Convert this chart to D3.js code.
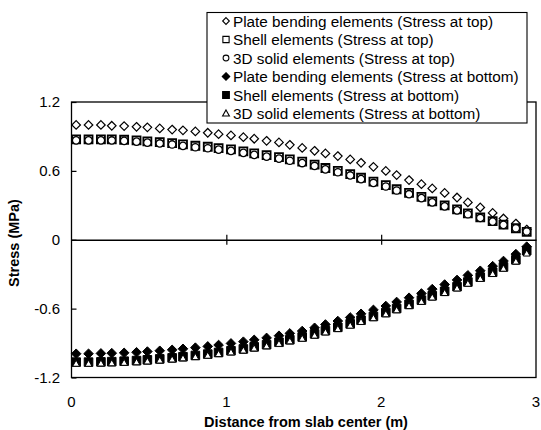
<!DOCTYPE html>
<html>
<head>
<meta charset="utf-8">
<script src="https://cdn.jsdelivr.net/npm/d3@7"></script>
<style>
  html, body { margin: 0; padding: 0; background: #fff; }
  svg { display: block; font-family: "Liberation Sans", Arial, sans-serif; }
</style>
</head>
<body>
<svg id="chart" width="541" height="430"></svg>
<script>
// Distance from slab center (m) of each sampled element
const distance = [0.03, 0.11, 0.19, 0.26, 0.34, 0.42, 0.49, 0.57, 0.65, 0.72,
  0.80, 0.88, 0.95, 1.03, 1.11, 1.18, 1.26, 1.34, 1.41, 1.49,
  1.57, 1.64, 1.72, 1.80, 1.87, 1.95, 2.03, 2.10, 2.18, 2.26,
  2.33, 2.41, 2.49, 2.56, 2.64, 2.72, 2.79, 2.87, 2.94];

// Stress at top of slab (MPa)
const plateTop = [1.00, 1.00, 1.00, 0.993, 0.99, 0.984, 0.979, 0.970, 0.960, 0.953,
  0.944, 0.932, 0.920, 0.909, 0.894, 0.880, 0.862, 0.848, 0.827, 0.800,
  0.775, 0.752, 0.729, 0.700, 0.670, 0.635, 0.600, 0.563, 0.520, 0.484,
  0.447, 0.408, 0.368, 0.325, 0.281, 0.234, 0.185, 0.141, 0.089];
const shellTop = [0.874, 0.874, 0.874, 0.874, 0.871, 0.865, 0.857, 0.851, 0.842, 0.830,
  0.819, 0.810, 0.798, 0.787, 0.770, 0.752, 0.737, 0.720, 0.700, 0.680,
  0.655, 0.625, 0.600, 0.572, 0.540, 0.507, 0.476, 0.440, 0.408, 0.373,
  0.335, 0.300, 0.264, 0.229, 0.195, 0.162, 0.132, 0.100, 0.068];
const solidTop = [0.866, 0.866, 0.866, 0.865, 0.861, 0.855, 0.846, 0.839, 0.830, 0.818,
  0.806, 0.797, 0.785, 0.774, 0.757, 0.739, 0.724, 0.707, 0.688, 0.668,
  0.643, 0.613, 0.588, 0.560, 0.528, 0.495, 0.464, 0.429, 0.397, 0.363,
  0.326, 0.291, 0.256, 0.222, 0.190, 0.158, 0.130, 0.100, 0.072];

// Stress at bottom of slab (MPa)
const plateBottom = [-0.993, -0.993, -0.990, -0.988, -0.985, -0.980, -0.974, -0.967, -0.959, -0.950,
  -0.940, -0.929, -0.917, -0.903, -0.888, -0.872, -0.855, -0.836, -0.816, -0.795,
  -0.767, -0.738, -0.708, -0.677, -0.645, -0.611, -0.577, -0.542, -0.505, -0.468,
  -0.430, -0.390, -0.350, -0.310, -0.270, -0.230, -0.185, -0.125, -0.060];
const shellBottom = [-1.066, -1.066, -1.064, -1.062, -1.058, -1.053, -1.046, -1.038, -1.029, -1.019,
  -1.008, -0.996, -0.982, -0.967, -0.951, -0.933, -0.914, -0.893, -0.871, -0.847,
  -0.820, -0.792, -0.763, -0.733, -0.701, -0.668, -0.634, -0.599, -0.563, -0.526,
  -0.488, -0.449, -0.409, -0.368, -0.326, -0.283, -0.237, -0.175, -0.095];
const solidBottom = [-1.080, -1.080, -1.078, -1.076, -1.072, -1.067, -1.060, -1.052, -1.043, -1.033,
  -1.022, -1.010, -0.996, -0.981, -0.965, -0.947, -0.928, -0.907, -0.885, -0.862,
  -0.835, -0.807, -0.778, -0.748, -0.716, -0.683, -0.649, -0.614, -0.578, -0.541,
  -0.503, -0.464, -0.424, -0.383, -0.341, -0.298, -0.252, -0.190, -0.120];

const xTicks = [0, 1, 2, 3];
const yTicks = [-1.2, -0.6, 0, 0.6, 1.2];

const seriesNames = [
  "Plate bending elements (Stress at top)",
  "Shell elements (Stress at top)",
  "3D solid elements (Stress at top)",
  "Plate bending elements (Stress at bottom)",
  "Shell elements (Stress at bottom)",
  "3D solid elements (Stress at bottom)"
];

// Marker shapes drawn around the origin, r = half-size in px
const shapes = {
  diamond: r => `M0,${-r}L${r},0L0,${r}L${-r},0Z`,
  square: r => `M${-r},${-r}H${r}V${r}H${-r}Z`,
  circle: r => `M${r},0A${r},${r} 0 1,1 ${-r},0A${r},${r} 0 1,1 ${r},0Z`,
  triangle: r => `M0,${-r}L${r * 0.95},${r * 0.7}H${-r * 0.95}Z`
};

const series = [
  { name: seriesNames[0], values: plateTop,    shape: "diamond",  r: 4.3, fill: "#fff",  sw: 1.2 },
  { name: seriesNames[1], values: shellTop,    shape: "square",   r: 4.0, fill: "#fff",  sw: 1.8 },
  { name: seriesNames[2], values: solidTop,    shape: "circle",   r: 3.7, fill: "#fff",  sw: 1.3 },
  { name: seriesNames[3], values: plateBottom, shape: "diamond",  r: 4.8, fill: "#000",  sw: 1.0 },
  { name: seriesNames[4], values: shellBottom, shape: "square",   r: 4.3, fill: "#000",  sw: 1.0 },
  { name: seriesNames[5], values: solidBottom, shape: "triangle", r: 3.6, fill: "#fff",  sw: 1.0 }
];

const svg = d3.select("#chart");
const plot = { left: 71.5, right: 536, top: 102, bottom: 377.5 };

const x = d3.scaleLinear().domain([0, 3]).range([plot.left, plot.right]);
const y = d3.scaleLinear().domain([-1.2, 1.2]).range([plot.bottom, plot.top]);

// Frame around the plotting area
svg.append("rect")
  .attr("x", plot.left).attr("y", plot.top)
  .attr("width", plot.right - plot.left).attr("height", plot.bottom - plot.top)
  .attr("fill", "none").attr("stroke", "#000").attr("stroke-width", 1.3);

// Left axis: labels outside, short ticks pointing into the plot
const yAxis = d3.axisRight(y).tickValues(yTicks).tickSize(5).tickFormat("");
svg.append("g").attr("transform", `translate(${plot.left},0)`).call(yAxis)
  .call(g => g.select(".domain").remove())
  .call(g => g.selectAll("line").attr("stroke", "#000").attr("stroke-width", 1.2));

svg.append("g").selectAll("text").data(yTicks).join("text")
  .attr("x", 60).attr("y", d => y(d)).attr("dy", "0.36em")
  .attr("text-anchor", "end").attr("font-size", 15).attr("fill", "#000")
  .text(d => String(d));

// Horizontal axis drawn along zero stress, ticks crossing the line
const xAxis = d3.axisBottom(x).tickValues([1, 2]).tickSize(0).tickFormat("");
const xg = svg.append("g").attr("transform", `translate(0,${y(0)})`).call(xAxis);
xg.select(".domain").attr("stroke", "#000").attr("stroke-width", 1.3);
xg.selectAll(".tick line").attr("y1", -5).attr("y2", 5).attr("stroke", "#000").attr("stroke-width", 1.2);

svg.append("g").selectAll("text").data(xTicks).join("text")
  .attr("x", d => x(d)).attr("y", 407)
  .attr("text-anchor", "middle").attr("font-size", 15).attr("fill", "#000")
  .text(d => d);

// Axis titles
svg.append("text")
  .attr("x", 306).attr("y", 427)
  .attr("text-anchor", "middle").attr("font-size", 14.5).attr("font-weight", "bold")
  .text("Distance from slab center (m)");

svg.append("text")
  .attr("transform", `translate(19,243) rotate(-90)`)
  .attr("text-anchor", "middle").attr("font-size", 14.5).attr("font-weight", "bold")
  .text("Stress (MPa)");

// Data markers
series.forEach(s => {
  svg.append("g").selectAll("path").data(s.values).join("path")
    .attr("transform", (d, i) => `translate(${x(distance[i])},${y(d)})`)
    .attr("d", shapes[s.shape](s.r))
    .attr("fill", s.fill).attr("stroke", "#000").attr("stroke-width", s.sw);
});

// Legend box
const lg = { x: 207, y: 12.5, w: 320, h: 110.5 };
const legend = svg.append("g");
legend.append("rect")
  .attr("x", lg.x).attr("y", lg.y).attr("width", lg.w).attr("height", lg.h)
  .attr("fill", "#fff").attr("stroke", "#000").attr("stroke-width", 1.1);

const rows = legend.selectAll("g.row").data(series).join("g")
  .attr("class", "row")
  .attr("transform", (d, i) => `translate(${lg.x},${21 + i * 18.5})`);
rows.append("path")
  .attr("transform", "translate(19,0)")
  .attr("d", d => shapes[d.shape](d.shape === "triangle" ? 3.6 : d.r * 0.78))
  .attr("fill", d => d.fill).attr("stroke", "#000").attr("stroke-width", 1.1);
rows.append("text")
  .attr("x", 26).attr("dy", "0.36em").attr("font-size", 15.3).attr("fill", "#000")
  .text(d => d.name);
</script>
</body>
</html>
